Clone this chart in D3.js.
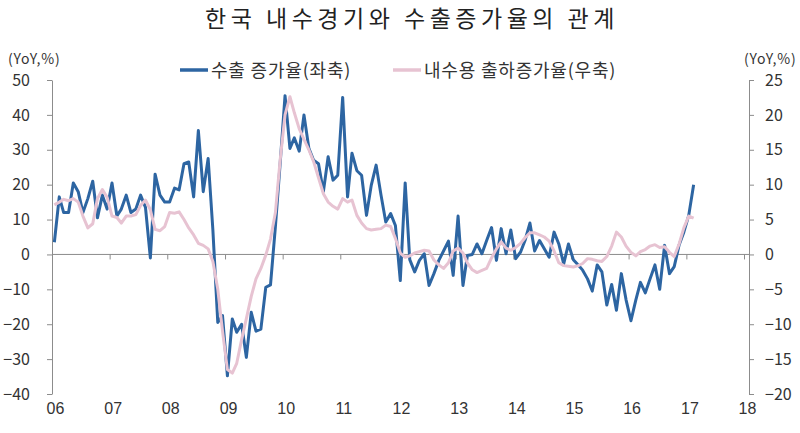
<!DOCTYPE html>
<html><head><meta charset="utf-8">
<script src="https://cdn.jsdelivr.net/npm/d3@7"></script>
<style>
body{margin:0;background:#fff;}
svg{display:block;font-family:"Noto Sans CJK KR","Noto Sans",sans-serif;}
</style></head>
<body><svg id="chart" width="800" height="433"></svg>
<script>
const title = "한국 내수경기와 수출증가율의 관계";
const seriesNames = ["수출 증가율(좌축)", "내수용 출하증가율(우축)"];
const startYear = 2006, startMonth = 0;
const exportGrowth = [
  3.5, 16.5, 12, 12, 20.5, 18, 12, 16, 21, 10.5, 17, 13,
  20.5, 11, 13, 17, 12, 13, 17, 13.5, -1, 23, 17, 15,
  15, 19, 18.5, 26, 26.5, 16.5, 35.5, 18, 27.5, 7, -19.5, -17.5,
  -34.8, -18.5, -22.3, -20, -29.5, -16.6, -22, -21.4, -9.4, -8.7, 8, 26,
  45.5, 30.4, 33.4, 29.6, 40, 30.4, 27, 26, 18, 28, 21.3, 22.7,
  45, 16.5, 29, 24, 22.7, 11.2, 19.8, 25.6, 17, 9.3, 11.7, 8.3,
  -7.5, 20.5, -1.5, -5, -1.7, 0.2, -8.9, -5.5, -1.7, 1, 3.8, -6,
  11, -8.9, -0.3, 0, 3, 0.2, 4, 7.7, -1.7, 7.4, 0.2, 7,
  -1.2, 0.7, 4, 9, 1, 4, 1.6, -0.8, 6.4, 3, -2.7, 3,
  -1.5, -3, -4.5, -7, -10.5, -3, -5, -14.5, -8.6, -16, -5.5, -13,
  -19, -13, -8, -11, -7, -3, -10, 2.6, -5.5, -3.5, 2.7, 6.4,
  11.2, 20
];
const domesticShipment = [
  7.1, 7.5, 7.9, 7.7, 8, 7.5, 5.5, 3.8, 4.4, 8, 9.3, 8.2,
  5.5, 5.3, 4.5, 5.5, 5.5, 5.7, 7, 7.8, 6.4, 3.6, 3.4, 4,
  6, 5.9, 6.1, 5, 3.8, 2.8, 1.6, 1.3, 0.8, -1, -5, -11,
  -16.5, -17, -15.6, -12.2, -9.2, -6, -3.5, -2, -0.1, 2.2, 6, 13.5,
  20, 22.6, 20.3, 18, 16.5, 15, 13.3, 11, 8.7, 7.5, 6.9, 6.5,
  8, 7.5, 7.8, 5.6, 4.5, 3.7, 3.5, 3.6, 3.7, 4.2, 4, 2.3,
  0.2, -0.4, -0.2, 0.2, 0.4, 0.6, 0.5, -0.8, -1.5, -2, -1.2, 0.5,
  0.9, 0.2, -1.2, -2.2, -2.6, -2.3, -2, -0.5, 0.8, 1.8, 0.9, 0.6,
  1, 1.6, 2.4, 3.1, 3.1, 2.8, 2.5, 1.9, 0.5, -1.2, -1.6, -1.7,
  -1.8, -1.6, -1.3, -0.6, -0.7, -0.9, -1, -0.3, 1.2, 3.2, 2.5, 1.2,
  0.3, -0.2, 0.4, 0.7, 1.2, 1.4, 1, 1.1, 0.3, -0.3, 1.5, 3.8,
  5.5, 5.2
];
const yearLabels = ["06","07","08","09","10","11","12","13","14","15","16","17","18"];
const leftTicks = [-40,-30,-20,-10,0,10,20,30,40,50];
const rightTicks = [-20,-15,-10,-5,0,5,10,15,20,25];
const unitLabel = "(YoY,%)";

const colors = {blue:"#2d65a2", pink:"#e7c3d2", axis:"#8c8c8c", text:"#333"};
const svg = d3.select("#chart");
const plotLeft = 52, plotRight = 744, rightAxisX = 749, plotTop = 80, plotBottom = 394;

const dateOf = i => new Date(startYear, startMonth + i, 16);
const x = d3.scaleTime().domain([new Date(2006,0,1), new Date(2018,0,1)]).range([plotLeft, plotRight]);
const yL = d3.scaleLinear().domain([-40,50]).range([plotBottom, plotTop]);
const yR = d3.scaleLinear().domain([-20,25]).range([plotBottom, plotTop]);

// title
svg.append("text").attr("x",412).attr("y",27).attr("text-anchor","middle")
  .attr("font-size",23).attr("letter-spacing",4.5).attr("fill","#222").text(title);

// left axis
const gL = svg.append("g").attr("transform",`translate(${plotLeft},0)`)
  .call(d3.axisLeft(yL).tickValues(leftTicks).tickSize(5).tickPadding(17).tickSizeOuter(0));
gL.select(".domain").attr("stroke",colors.axis);
gL.selectAll(".tick line").attr("stroke",colors.axis);
gL.selectAll("text").attr("font-size",16).attr("fill",colors.text).attr("font-family","'Noto Sans CJK KR',sans-serif");

// right axis
const gR = svg.append("g").attr("transform",`translate(${rightAxisX},0)`)
  .call(d3.axisRight(yR).tickValues(rightTicks).tickSize(5).tickPadding(11).tickSizeOuter(0));
gR.select(".domain").attr("stroke",colors.axis);
gR.selectAll(".tick line").attr("stroke",colors.axis);
gR.selectAll("text").attr("font-size",16).attr("fill",colors.text).attr("font-family","'Noto Sans CJK KR',sans-serif");

// x axis at zero
const yearDates = yearLabels.map((d,i)=>new Date(2006+i,0,1));
const gX = svg.append("g").attr("transform",`translate(0,${yL(0)})`)
  .call(d3.axisBottom(x).tickValues(yearDates).tickSize(5).tickSizeOuter(0).tickFormat((d,i)=>yearLabels[i]));
gX.select(".domain").attr("stroke",colors.axis).attr("d",`M${plotLeft},0H${rightAxisX}`);
gX.selectAll(".tick line").attr("stroke",colors.axis);
gX.selectAll("text").attr("font-size",16).attr("fill",colors.text)
  .attr("y", 413 - yL(0) - 5).attr("dy","0.35em").attr("dx",3);

// lines
const lineL = d3.line().x((d,i)=>x(dateOf(i))).y(d=>yL(d));
const lineR = d3.line().x((d,i)=>x(dateOf(i))).y(d=>yR(d));
svg.append("path").datum(exportGrowth).attr("d",lineL).attr("fill","none")
  .attr("stroke",colors.blue).attr("stroke-width",3).attr("stroke-linejoin","round");
svg.append("path").datum(domesticShipment).attr("d",lineR).attr("fill","none")
  .attr("stroke",colors.pink).attr("stroke-width",3).attr("stroke-linejoin","round");

// unit labels
svg.append("text").attr("x",8).attr("y",64).attr("font-size",14).attr("letter-spacing",0.8).attr("fill",colors.text).text(unitLabel);
svg.append("text").attr("x",744).attr("y",64).attr("font-size",14).attr("letter-spacing",0.8).attr("fill",colors.text).text(unitLabel);

// legend
const legend = [
  {name:seriesNames[0], color:colors.blue, x:180},
  {name:seriesNames[1], color:colors.pink, x:393}
];
legend.forEach(l=>{
  svg.append("line").attr("x1",l.x).attr("x2",l.x+28).attr("y1",70).attr("y2",70)
    .attr("stroke",l.color).attr("stroke-width",3.5);
  svg.append("text").attr("x",l.x+31).attr("y",77).attr("font-size",18).attr("letter-spacing",0.8).attr("fill",colors.text).text(l.name);
});
</script></body></html>
